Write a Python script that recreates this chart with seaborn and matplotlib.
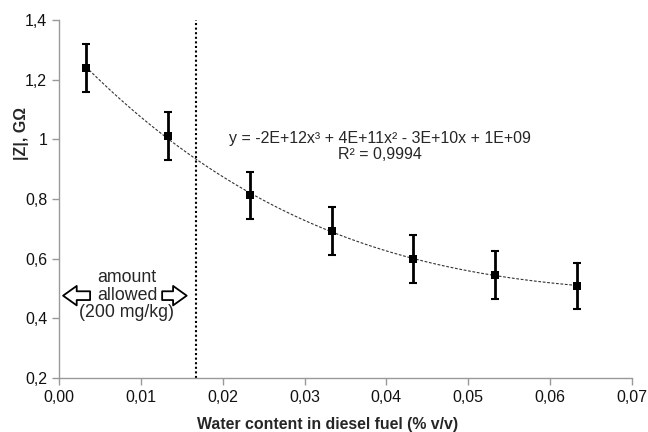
import matplotlib
matplotlib.use("Agg")
import matplotlib.pyplot as plt
from matplotlib.ticker import FuncFormatter, MultipleLocator
import seaborn as sns
import pandas as pd

water = [0.0033, 0.0133, 0.0233, 0.0333, 0.0433, 0.0533, 0.0633]
impedance = [1.24, 1.011, 0.812, 0.693, 0.599, 0.546, 0.509]
err = [0.08, 0.08, 0.08, 0.08, 0.08, 0.08, 0.078]
limit_x = 0.0167

df = pd.DataFrame({"water": water, "Z": impedance, "err": err})

sns.set_style("white")
plt.rcParams["font.family"] = ["Liberation Sans", "DejaVu Sans"]

fig = plt.figure(figsize=(6.48, 4.32), dpi=100)
ax = fig.add_axes([59/648, 1 - 378/432, (632 - 59)/648, (378 - 20)/432])

sns.regplot(data=df, x="water", y="Z", order=3, ci=None, scatter=False, ax=ax,
            line_kws=dict(color="#333333", lw=0.8, ls=(0, (2.5, 1.5))))
ax.errorbar(df["water"], df["Z"], yerr=df["err"], fmt="none", ecolor="black",
            elinewidth=2, capsize=3, capthick=1.5, zorder=3)
sns.scatterplot(data=df, x="water", y="Z", marker="s", color="black", s=40,
                edgecolor="black", linewidth=0, ax=ax, zorder=4)

ax.axvline(limit_x, color="black", ls=(0, (1, 1.2)), lw=1.5)

ax.set_xlim(0, 0.07)
ax.set_ylim(0.2, 1.4)
ax.xaxis.set_major_locator(MultipleLocator(0.01))
ax.yaxis.set_major_locator(MultipleLocator(0.2))
ax.xaxis.set_major_formatter(FuncFormatter(lambda v, p: f"{v:.2f}".replace(".", ",")))
ax.yaxis.set_major_formatter(FuncFormatter(lambda v, p: f"{round(v, 2):g}".replace(".", ",")))

for s in ["top", "right"]:
    ax.spines[s].set_visible(False)
for s in ["left", "bottom"]:
    ax.spines[s].set_color("#999999")
    ax.spines[s].set_linewidth(1)
ax.tick_params(axis="both", which="major", direction="out", length=5, width=1,
               color="#999999", labelsize=11.5, labelcolor="#111111", bottom=True, left=True)

ax.set_xlabel("Water content in diesel fuel (% v/v)", fontsize=11.4, fontweight="bold")
ax.set_ylabel("|Z|, GΩ", fontsize=11.5, fontweight="bold")
ax.xaxis.set_label_coords(0.468, -0.131)
ax.yaxis.set_label_coords(-0.065, 0.684)
ax.xaxis.label.set_va("center")
ax.yaxis.label.set_va("center")

ax.text(0.0392, 0.975, "y = -2E+12x³ + 4E+11x² - 3E+10x + 1E+09\nR² = 0,9994",
        ha="center", va="center", fontsize=11.5, linespacing=1.05)

ax.text(0.0083, 0.478, "amount\nallowed\n(200 mg/kg)", ha="center", va="center",
        fontsize=12.8, linespacing=1.05)
arrow_style = "simple,head_length=0.7,head_width=1.0,tail_width=0.45"
ax.annotate("", xy=(0.0005, 0.476), xytext=(0.0038, 0.476),
            arrowprops=dict(arrowstyle=arrow_style, fc="white", ec="black", lw=1.3,
                            mutation_scale=14, shrinkA=0, shrinkB=0))
ax.annotate("", xy=(0.0156, 0.476), xytext=(0.0126, 0.476),
            arrowprops=dict(arrowstyle=arrow_style, fc="white", ec="black", lw=1.3,
                            mutation_scale=14, shrinkA=0, shrinkB=0))

fig.savefig("out.png", dpi=100)
